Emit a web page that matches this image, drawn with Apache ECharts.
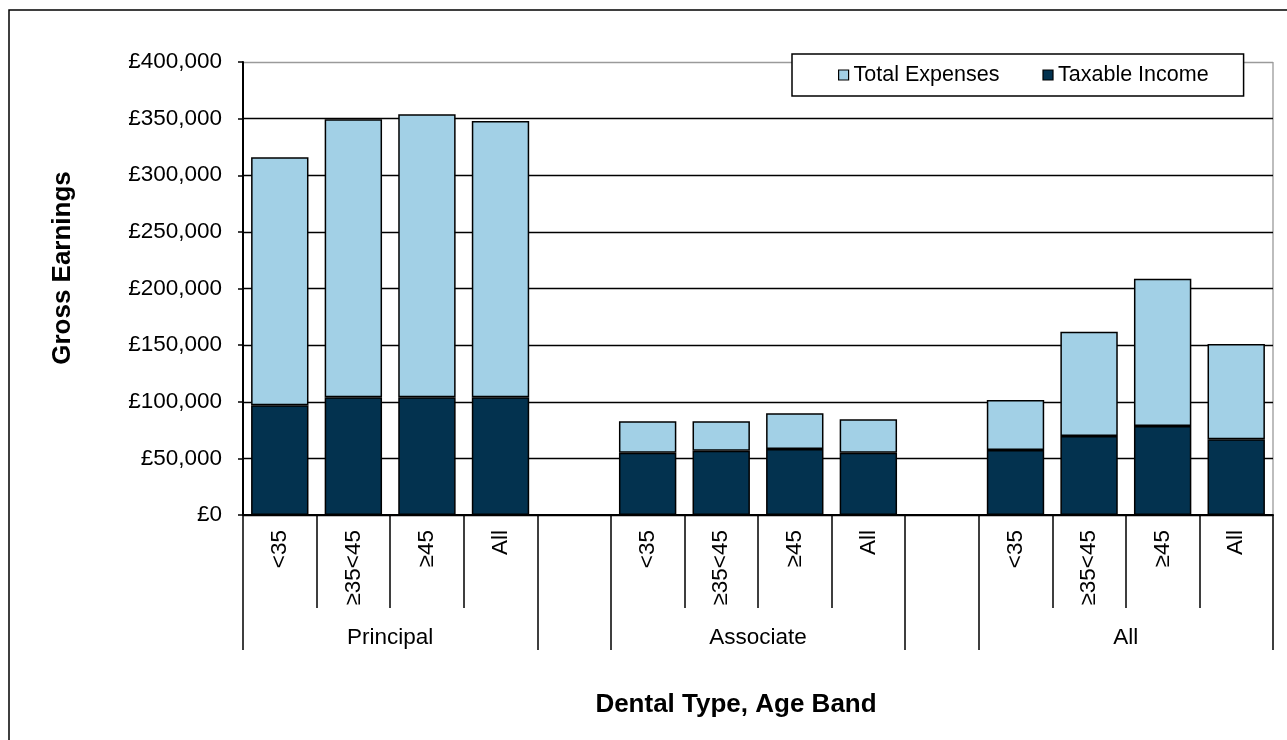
<!DOCTYPE html>
<html>
<head>
<meta charset="utf-8">
<script src="https://cdn.jsdelivr.net/npm/echarts@6/dist/echarts.min.js"></script>
<style>
  html, body { margin: 0; padding: 0; background: #fff; }
  #chart { width: 1287px; height: 740px; }
</style>
</head>
<body>
<div id="chart"></div>
<script>
// ---- data ----
const categories = ['<35', '≥35<45', '≥45', 'All', '', '<35', '≥35<45', '≥45', 'All', '', '<35', '≥35<45', '≥45', 'All'];
const groupOfCategory = ['Principal', 'Principal', 'Principal', 'Principal', '', 'Associate', 'Associate', 'Associate', 'Associate', '', 'All', 'All', 'All', 'All'];
const taxableIncome = [97000, 104000, 104000, 104000, null, 55000, 56800, 58300, 55000, null, 57300, 69700, 78600, 66800];
const totalExpenses = [219000, 245400, 249800, 244000, null, 27700, 25900, 31500, 29500, null, 44200, 92100, 129900, 84200];
const seriesNames = ['Total Expenses', 'Taxable Income'];
const yTickValues = [0, 50000, 100000, 150000, 200000, 250000, 300000, 350000, 400000];
const yAxisTitle = 'Gross Earnings';
const xAxisTitle = 'Dental Type, Age Band';

// derive group spans (in category units) from the group list
const groupBounds = [];
const groupCentres = [];
const groupLabels = {};
(function () {
  let i = 0;
  while (i < groupOfCategory.length) {
    const g = groupOfCategory[i];
    let j = i;
    while (j + 1 < groupOfCategory.length && groupOfCategory[j + 1] === g) j++;
    if (g !== '') {
      groupBounds.push(i, j + 1);
      const c = (i + j + 1) / 2;
      groupCentres.push(c);
      groupLabels[c] = g;
    }
    i = j + 1;
  }
})();

const FONT = "'Liberation Sans', Arial, sans-serif";
const chart = echarts.init(document.getElementById('chart'), null, { renderer: 'canvas' });

const yColors = yTickValues.map((v, i) => i === yTickValues.length - 1 ? '#9a9a9a' : '#000');

chart.setOption({
  animation: false,
  backgroundColor: '#fff',
  textStyle: { fontFamily: FONT },
  grid: { left: 243, right: 14, top: 62, bottom: 225, containLabel: false },
  legend: {
    data: seriesNames.map(n => ({ name: n, icon: 'rect' })),
    left: 792,
    top: 54,
    orient: 'horizontal',
    itemWidth: 10,
    itemHeight: 10,
    itemGap: 43,
    padding: [10, 35, 10, 46],
    backgroundColor: '#fff',
    borderColor: '#000',
    borderWidth: 1.5,
    itemStyle: { borderColor: '#000', borderWidth: 1.2 },
    textStyle: { fontFamily: FONT, fontSize: 21.5, color: '#000' },
    z: 10
  },
  xAxis: [
    {
      type: 'category',
      data: categories,
      position: 'bottom',
      axisLine: { show: true, lineStyle: { color: '#000', width: 2 } },
      axisTick: { show: true, interval: 0, length: 93, lineStyle: { color: '#000', width: 1.5 } },
      axisLabel: { interval: 0, rotate: 90, margin: 15, fontFamily: FONT, fontSize: 22.5, color: '#000' },
      splitLine: { show: false }
    },
    {
      type: 'value',
      min: 0,
      max: categories.length,
      position: 'bottom',
      axisLine: { show: false },
      axisTick: { show: true, customValues: groupBounds, length: 135, lineStyle: { color: '#000', width: 1.5 } },
      axisLabel: {
        customValues: groupCentres,
        margin: 111,
        fontFamily: FONT, fontSize: 22.5, color: '#000',
        formatter: v => groupLabels[v] || ''
      },
      splitLine: { show: false }
    }
  ],
  yAxis: {
    type: 'value',
    min: 0,
    max: 400000,
    interval: 50000,
    axisLine: { show: true, lineStyle: { color: '#000', width: 2 } },
    axisTick: { show: true, length: 5, lineStyle: { color: '#000', width: 1.5 } },
    axisLabel: {
      margin: 21,
      fontFamily: FONT, fontSize: 22.5, color: '#000',
      formatter: v => '£' + v.toLocaleString('en-GB')
    },
    splitLine: { show: true, lineStyle: { color: yColors, width: 1.3 } }
  },
  series: [
    {
      name: 'Taxable Income',
      type: 'bar',
      stack: 'gross',
      data: taxableIncome,
      barCategoryGap: '22%',
      itemStyle: { color: '#03324f', borderColor: '#000', borderWidth: 1.5 }
    },
    {
      name: 'Total Expenses',
      type: 'bar',
      stack: 'gross',
      data: totalExpenses,
      barCategoryGap: '22%',
      itemStyle: { color: '#a2d0e6', borderColor: '#000', borderWidth: 1.5 }
    }
  ],
  graphic: [
    {
      type: 'rect',
      shape: { x: 9, y: 10, width: 1320, height: 760 },
      style: { fill: 'none', stroke: '#000', lineWidth: 1.5 },
      silent: true,
      z: -1
    },
    {
      type: 'line',
      shape: { x1: 1273, y1: 62, x2: 1273, y2: 515 },
      style: { stroke: '#9a9a9a', lineWidth: 1.3 },
      silent: true
    },
    {
      type: 'text',
      x: 63,
      y: 268,
      rotation: Math.PI / 2,
      style: {
        text: yAxisTitle,
        fill: '#000',
        font: 'bold 26px ' + FONT,
        align: 'center',
        verticalAlign: 'middle'
      },
      silent: true
    },
    {
      type: 'text',
      x: 736,
      y: 705,
      style: {
        text: xAxisTitle,
        fill: '#000',
        font: 'bold 26px ' + FONT,
        align: 'center',
        verticalAlign: 'middle'
      },
      silent: true
    }
  ]
});
</script>
</body>
</html>
